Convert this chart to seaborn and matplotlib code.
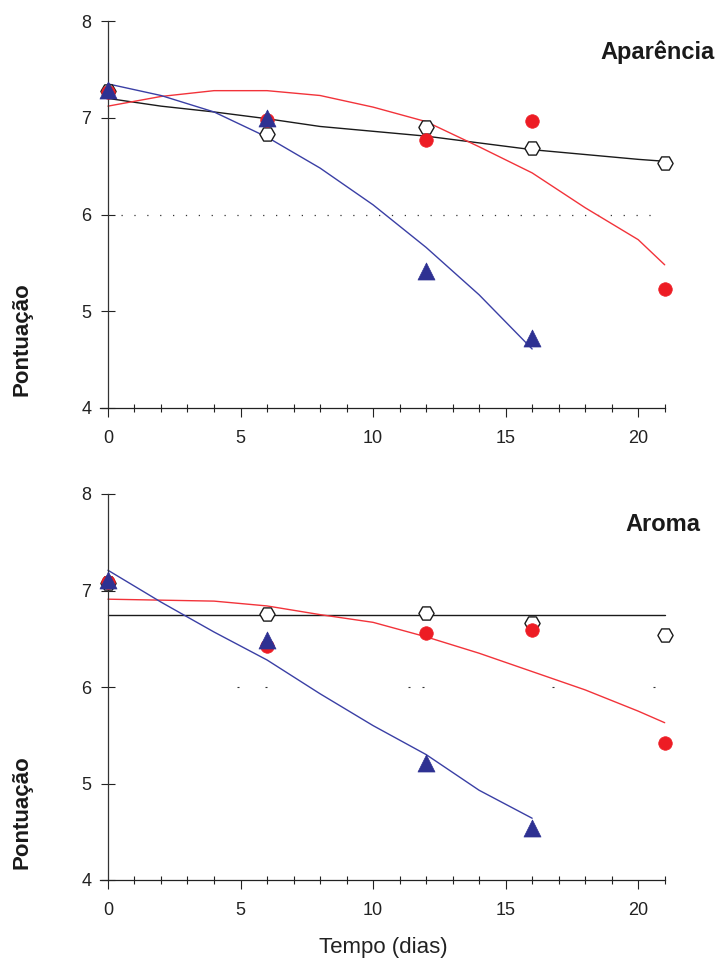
import matplotlib
matplotlib.use("Agg")
import matplotlib.pyplot as plt
import numpy as np
import pandas as pd
import seaborn as sns
from matplotlib.ticker import MultipleLocator

sns.set_style("white")
plt.rcParams["font.family"] = ["Liberation Sans", "DejaVu Sans"]

# Sampling days
dias = [0, 6, 12, 16, 21]
dias_azul = [0, 6, 12, 16]

# Aparência - observed scores
ap_preto = [7.28, 6.83, 6.90, 6.69, 6.53]
ap_vermelho = [7.27, 6.98, 6.77, 6.97, 5.23]
ap_azul = [7.29, 7.00, 5.42, 4.72]

# Aroma - observed scores
ar_preto = [7.08, 6.76, 6.77, 6.66, 6.54]
ar_vermelho = [7.09, 6.42, 6.56, 6.59, 5.42]
ar_azul = [7.11, 6.49, 5.21, 4.54]

# Trend curves
x_curva = [0, 2, 4, 6, 8, 10, 12, 14, 16, 18, 20, 21]
x_curva_azul = [0, 2, 4, 6, 8, 10, 12, 14, 16]
ap_curva_preto = [7.20, 7.12, 7.06, 6.99, 6.91, 6.86, 6.81, 6.74, 6.67, 6.62, 6.57, 6.55]
ap_curva_vermelho = [7.12, 7.22, 7.28, 7.28, 7.23, 7.11, 6.96, 6.70, 6.43, 6.07, 5.74, 5.48]
ap_curva_azul = [7.35, 7.23, 7.06, 6.80, 6.48, 6.10, 5.66, 5.17, 4.61]
ar_curva_preto = [6.75, 6.75, 6.75, 6.75, 6.75, 6.75, 6.75, 6.75, 6.75, 6.75, 6.75, 6.75]
ar_curva_vermelho = [6.91, 6.90, 6.89, 6.84, 6.75, 6.67, 6.52, 6.35, 6.16, 5.97, 5.75, 5.63]
ar_curva_azul = [7.21, 6.88, 6.57, 6.28, 5.93, 5.60, 5.30, 4.93, 4.64]

# Acceptance limit (score 6)
limite = 6
ar_limite_x = [4.9, 5.95, 11.35, 11.9, 16.8, 20.6]

COR_PRETO = "#1a1a1a"
COR_VERM = "#ED1C24"
COR_VERM_L = "#F2333A"
COR_AZUL = "#2E3192"
COR_AZUL_L = "#3A3FA5"


def painel(ax, titulo, tx, ty, preto, verm, azul, c_preto, c_verm, c_azul):
    curvas = [
        (x_curva, c_preto, COR_PRETO),
        (x_curva, c_verm, COR_VERM_L),
        (x_curva_azul, c_azul, COR_AZUL_L),
    ]
    for xs, ys, cor in curvas:
        sns.lineplot(x=xs, y=ys, ax=ax, color=cor, lw=1.0, sort=False,
                     estimator=None, zorder=2)

    sns.scatterplot(x=dias, y=preto, ax=ax, marker="H", s=120, color="white",
                    edgecolor=COR_PRETO, linewidth=1.0, zorder=4, clip_on=False)
    sns.scatterplot(x=dias, y=verm, ax=ax, marker="o", s=95, color=COR_VERM,
                    edgecolor=COR_VERM, linewidth=0.5, zorder=5, clip_on=False)
    sns.scatterplot(x=dias_azul, y=azul, ax=ax, marker="^", s=150, color=COR_AZUL,
                    edgecolor=COR_AZUL, linewidth=0.5, zorder=6, clip_on=False)

    ax.set_xlim(-0.3, 21.2)
    ax.set_ylim(4, 8)
    ax.spines["left"].set_position(("data", 0))
    ax.spines["bottom"].set_bounds(-0.3, 21)
    for s in ("top", "right"):
        ax.spines[s].set_visible(False)
    ax.spines["left"].set_color("#333333")
    ax.spines["bottom"].set_color("#222222")
    ax.spines["left"].set_linewidth(0.9)
    ax.spines["bottom"].set_linewidth(0.9)

    ax.xaxis.set_major_locator(MultipleLocator(5))
    ax.xaxis.set_minor_locator(MultipleLocator(1))
    ax.yaxis.set_major_locator(MultipleLocator(1))
    ax.tick_params(axis="x", which="major", direction="out", length=6.5,
                   width=0.8, color="#222222", labelsize=13, pad=9,
                   labelcolor="#222222", bottom=True)
    ax.tick_params(axis="x", which="minor", direction="inout", length=6,
                   width=0.8, color="#222222", bottom=True)
    ax.tick_params(axis="y", which="major", direction="inout", length=10,
                   width=0.8, color="#222222", labelsize=13, pad=7,
                   labelcolor="#222222", left=True)
    ax.set_xlabel("")
    ax.set_ylabel("")
    ax.grid(False)
    ax.text(tx, ty, titulo, transform=ax.transAxes, ha="right", va="center",
            fontsize=17, fontweight="bold", color="#1a1a1a")


fig = plt.figure(figsize=(7.18, 9.61), dpi=100)
ax1 = fig.add_axes([100 / 718, 1 - 408 / 961, 570 / 718, 387 / 961])
ax2 = fig.add_axes([100 / 718, 1 - 880 / 961, 570 / 718, 386 / 961])

painel(ax1, "Aparência", 1.079, 0.92, ap_preto, ap_vermelho, ap_azul,
       ap_curva_preto, ap_curva_vermelho, ap_curva_azul)
painel(ax2, "Aroma", 1.053, 0.922, ar_preto, ar_vermelho, ar_azul,
       ar_curva_preto, ar_curva_vermelho, ar_curva_azul)

# Limit of acceptance at score 6
ax1.hlines(limite, 0.5, 20.6, colors="#333333", linestyles=(0, (1.0, 9.3)),
           lw=0.9, zorder=1)
ax2.scatter(ar_limite_x, [limite] * len(ar_limite_x), marker="_", s=3,
            color="#333333", linewidths=0.8, zorder=1)

for y in (1 - 339 / 961, 1 - 812 / 961):
    fig.text(22 / 718, y, "Pontuação", rotation=90, ha="center", va="center",
             fontsize=16, fontweight="bold", color="#1a1a1a")
fig.text(383 / 718, 1 - 948 / 961, "Tempo (dias)", ha="center", va="center",
         fontsize=16, color="#222222")

fig.savefig("out.png", dpi=100)
